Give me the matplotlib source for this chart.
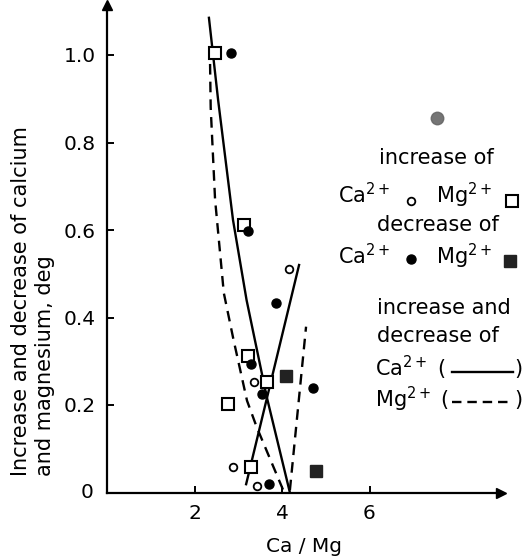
import matplotlib
matplotlib.use("Agg")
import matplotlib.pyplot as plt

# ---- data ----
inc_ca_x = [2.89, 3.36, 3.43, 4.15]
inc_ca_y = [0.059, 0.252, 0.015, 0.511]

inc_mg_x = [2.47, 3.12, 3.22, 3.65, 2.76, 3.28]
inc_mg_y = [1.004, 0.611, 0.313, 0.253, 0.202, 0.059]

dec_ca_x = [2.83, 3.22, 3.86, 3.28, 3.54, 4.71, 3.70]
dec_ca_y = [1.004, 0.598, 0.434, 0.293, 0.225, 0.240, 0.019]

dec_mg_x = [4.08, 4.78]
dec_mg_y = [0.267, 0.050]

# fitted curves (traced)
ca_dec_x = [2.33, 2.54, 2.88, 3.19, 3.65, 4.18]
ca_dec_y = [1.085, 0.897, 0.623, 0.440, 0.219, 0.0]
ca_inc_x = [3.18, 4.39]
ca_inc_y = [0.019, 0.520]
mg_dec_x = [2.35, 2.37, 2.47, 2.67, 2.89, 3.20, 3.42, 4.05]
mg_dec_y = [1.02, 0.88, 0.67, 0.456, 0.35, 0.21, 0.15, 0.0]
mg_inc_x = [4.18, 4.55]
mg_inc_y = [0.005, 0.379]

xticks = [2, 4, 6]
xticklabels = ["2", "4", "6"]
yticks = [0, 0.2, 0.4, 0.6, 0.8, 1.0]
yticklabels = ["0", "0.2", "0.4", "0.6", "0.8", "1.0"]

W, H = 525, 559
fig = plt.figure(figsize=(W / 100, H / 100), dpi=100)
plt.rcParams['font.family'] = ['DejaVu Sans']

x0px, y0px = 107, 492.5
sx, sy = 43.75, 437.5
xmax, ymax = 9.0, 1.115
ax = fig.add_axes([x0px / W, (H - y0px) / H, xmax * sx / W, ymax * sy / H])
ax.set_xlim(0, xmax)
ax.set_ylim(0, ymax)
for s in ["top", "right"]:
    ax.spines[s].set_visible(False)
for s in ["left", "bottom"]:
    ax.spines[s].set_linewidth(1.6)
ax.plot(1, 0, ">k", transform=ax.transAxes, clip_on=False, markersize=7)
ax.plot(0, 1, "^k", transform=ax.transAxes, clip_on=False, markersize=7)

ax.set_xticks(xticks)
ax.set_xticklabels(xticklabels)
ax.set_yticks(yticks[1:])
ax.set_yticklabels(yticklabels[1:])
ax.tick_params(direction="in", length=5, width=1.4, labelsize=14.5, pad=8)
ax.text(-0.3, 0, yticklabels[0], ha="right", va="center", fontsize=14.5,
        transform=ax.transData, clip_on=False)

lw = 1.7
ax.plot(ca_dec_x, ca_dec_y, "k-", lw=lw, clip_on=False)
ax.plot(ca_inc_x, ca_inc_y, "k-", lw=lw, clip_on=False)
ax.plot(mg_dec_x, mg_dec_y, "k", lw=lw, dashes=(4.5, 3), clip_on=False)
ax.plot(mg_inc_x, mg_inc_y, "k", lw=lw, dashes=(4.5, 3), clip_on=False)

ax.plot(inc_ca_x, inc_ca_y, "o", mfc="white", mec="k", mew=1.3, ms=5.5, clip_on=False, zorder=5)
ax.plot(inc_mg_x, inc_mg_y, "s", mfc="white", mec="k", mew=1.5, ms=8, clip_on=False, zorder=5)
ax.plot(dec_ca_x, dec_ca_y, "o", color="k", ms=6.5, clip_on=False, zorder=5)
ax.plot(dec_mg_x, dec_mg_y, "s", color="#222222", ms=8.5, clip_on=False, zorder=5)
# ink smudge in the scan
ax.plot([7.54], [0.856], "o", color="#666666", ms=9, alpha=0.9)

ax.set_xlabel("Ca / Mg", fontsize=14.5, labelpad=10)

fig.text(33 / W, 1 - 476 / H, "Increase and decrease of calcium\nand magnesium, deg",
         rotation=90, ha="center", va="bottom", multialignment="left",
         fontsize=15, linespacing=1.2)

# ---- legend (hand placed text) ----
fs = 15
def ft(x, y, s, **kw):
    fig.text(x / W, 1 - y / H, s, fontsize=fs, va="center", **kw)

def fm(x, y, **kw):
    fig.add_artist(plt.Line2D([x / W], [1 - y / H], transform=fig.transFigure, **kw))

ft(379, 158, "increase of")
ft(338, 195, "Ca$^{2+}$")
fm(411, 201, marker="o", mfc="white", mec="k", mew=1.3, ms=5.5)
ft(436, 195, "Mg$^{2+}$")
fm(512, 201, marker="s", mfc="white", mec="k", mew=1.5, ms=8)
ft(377, 225, "decrease of")
ft(338, 256, "Ca$^{2+}$")
fm(411, 259, marker="o", color="k", ms=6.5)
ft(436, 256, "Mg$^{2+}$")
fm(510, 261, marker="s", color="#222222", ms=8.5)
ft(377, 308, "increase and")
ft(377, 336, "decrease of")
ft(375, 368, "Ca$^{2+}$ (")
fig.add_artist(plt.Line2D([452 / W, 513 / W], [1 - 372 / H] * 2, color="k", lw=1.7,
                          transform=fig.transFigure))
ft(514, 369, ")")
ft(375, 399, "Mg$^{2+}$ (")
fig.add_artist(plt.Line2D([452 / W, 513 / W], [1 - 402 / H] * 2, color="k", lw=1.7,
                          dashes=(4, 2.5), transform=fig.transFigure))
ft(514, 400, ")")

fig.savefig("out.png", dpi=100, facecolor="white")
